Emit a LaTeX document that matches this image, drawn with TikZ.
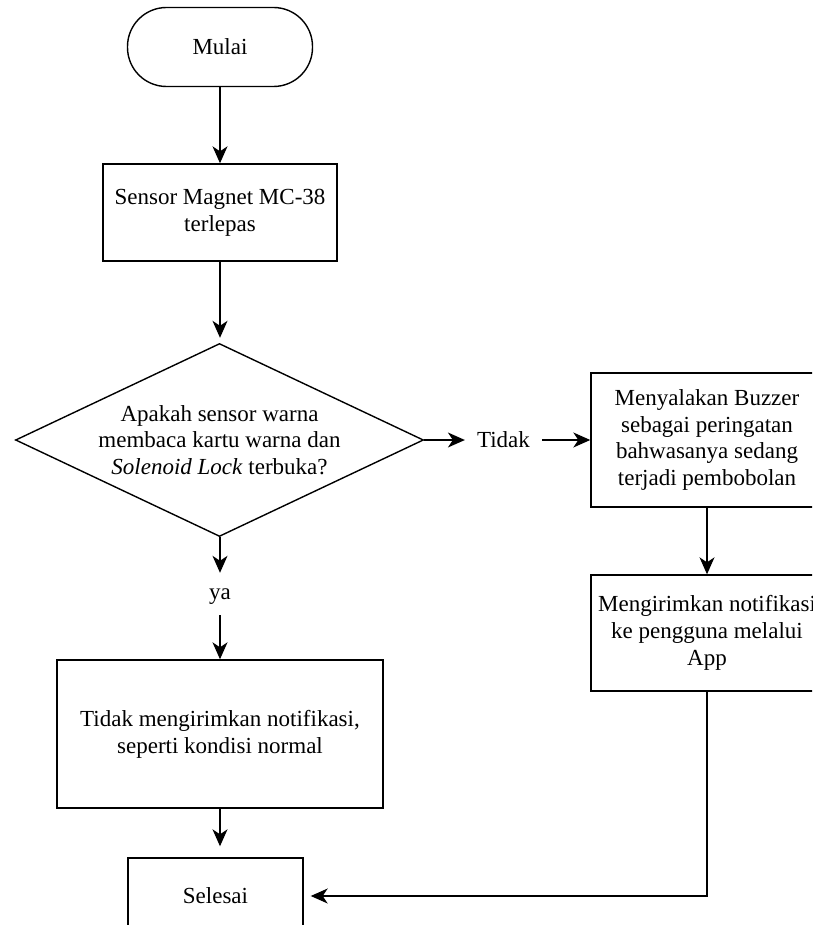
\documentclass[tikz,border=0pt]{standalone}
\usepackage{fontspec}
\setmainfont{Liberation Serif}
\usetikzlibrary{arrows.meta,shapes.geometric}
\begin{document}
\begin{tikzpicture}[x=1pt,y=-1pt,
  every node/.style={font=\fontsize{23}{26.7}\selectfont, align=center, inner sep=0pt},
  box/.style={draw, line width=1.4pt, rectangle},
  term/.style={box, rounded corners=39pt},
  dec/.style={draw, line width=1.4pt, diamond},
  arr/.style={line width=1.4pt, -{Stealth[length=17pt,width=15pt,inset=5pt]}}
]
\useasboundingbox (0,0) rectangle (812,925);
\clip (0,0) rectangle (812,925);

\node[term, minimum width=185, minimum height=79] (mulai) at (220,47) {Mulai};
\node[box, minimum width=234, minimum height=97] (sensor) at (220,212.5) {Sensor Magnet MC-38\\terlepas};
\node[dec, minimum width=408, minimum height=193] (dia) at (219.5,440) {};
\node (q) at (dia.center) {Apakah sensor warna\\membaca kartu warna dan\\\textit{Solenoid Lock} terbuka?};
\node[inner xsep=12pt] (tidak) at (503.5,440) {Tidak};
\node[box, minimum width=232, minimum height=134] (buzz) at (707,440) {Menyalakan Buzzer\\sebagai peringatan\\bahwasanya sedang\\terjadi pembobolan};
\node[box, minimum width=232, minimum height=116] (notif) at (707,633) {Mengirimkan notifikasi\\ke pengguna melalui\\App};
\node[text height=11pt, text depth=5pt] (ya) at (220,596) {ya};
\node[box, minimum width=326, minimum height=148] (normal) at (220,734) {Tidak mengirimkan notifikasi,\\seperti kondisi normal};
\node[box, minimum width=175, minimum height=76] (selesai) at (215.5,896) {Selesai};

\draw[arr] (mulai.south) -- (sensor.north);
\draw[arr, shorten >=5pt] (sensor.south) -- (sensor.south |- dia.north);
\draw[arr] (dia.east) -- (tidak.west);
\draw[arr] (tidak.east) -- (buzz.west);
\draw[arr] (buzz.south) -- (notif.north);
\draw[arr, shorten >=15pt] (dia.south -| ya.north) -- (ya.north);
\draw[arr, shorten <=11pt] (ya.south) -- (normal.north);
\draw[arr, shorten >=11pt] (normal.south) -- (normal.south |- selesai.north);
\draw[arr, shorten >=7pt] (notif.south) |- (selesai.east);
\end{tikzpicture}
\end{document}
